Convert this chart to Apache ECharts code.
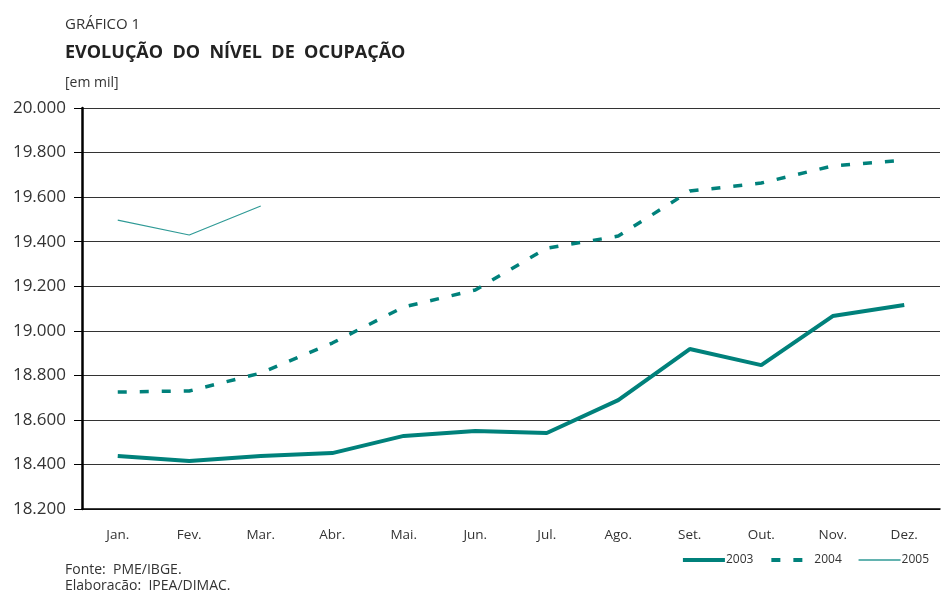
<!DOCTYPE html>
<html>
<head>
<meta charset="utf-8">
<script src="https://cdn.jsdelivr.net/npm/echarts@6/dist/echarts.min.js"></script>
<style>
  html, body { margin: 0; padding: 0; background: #fff; }
  #chart { width: 942px; height: 592px; }
</style>
</head>
<body>
<div id="chart"></div>
<script>
// meses
const months = ['Jan.', 'Fev.', 'Mar.', 'Abr.', 'Mai.', 'Jun.', 'Jul.', 'Ago.', 'Set.', 'Out.', 'Nov.', 'Dez.'];
// ocupados, em mil
const occ2003 = [18438, 18415, 18438, 18451, 18528, 18550, 18541, 18689, 18918, 18846, 19066, 19116];
const occ2004 = [18725, 18730, 18810, 18945, 19107, 19183, 19371, 19425, 19627, 19663, 19740, 19766];
const occ2005 = [19497, 19430, 19560];

const teal = '#00817b';
const font = '"Open Sans", "Noto Sans", sans-serif';

const myChart = echarts.init(document.getElementById('chart'), null, { renderer: 'canvas' });

const option = {
  animation: false,
  backgroundColor: '#fff',
  textStyle: { fontFamily: font },
  title: [
    { text: 'GRÁFICO 1', left: 60, top: 12,
      textStyle: { fontSize: 15, fontWeight: 'normal', color: '#333', fontFamily: font } },
    { text: 'EVOLUÇÃO  DO  NÍVEL  DE  OCUPAÇÃO', left: 60, top: 39,
      textStyle: { fontSize: 18, fontWeight: 'bold', color: '#222', fontFamily: font } },
    { text: '[em mil]', left: 60, top: 71,
      textStyle: { fontSize: 14, fontWeight: 'normal', color: '#333', fontFamily: font } },
    { text: 'Fonte:  PME/IBGE.\nElaboracão:  IPEA/DIMAC.', left: 60, top: 557,
      textStyle: { fontSize: 14, fontWeight: 'normal', color: '#333', lineHeight: 16, fontFamily: font } }
  ],
  legend: {
    right: 8, top: 549,
    itemWidth: 42, itemHeight: 12, itemGap: 16,
    itemStyle: { opacity: 0 },
    textStyle: { fontSize: 12, color: '#333', padding: [0, 0, 0, -4] },
    data: [
      { name: '2003', lineStyle: { width: 4 } },
      { name: '2004', lineStyle: { width: 4, type: [9, 13] } },
      { name: '2005', lineStyle: { width: 1.5 } }
    ]
  },
  grid: { left: 82, right: 2, top: 108, bottom: 83 },
  xAxis: {
    type: 'category',
    data: months,
    boundaryGap: true,
    axisLine: { lineStyle: { color: '#000', width: 1.5 } },
    axisTick: { length: 6, lineStyle: { color: '#000' } },
    axisLabel: { margin: 19, fontSize: 13.5, color: '#333' },
    splitLine: { show: false }
  },
  yAxis: {
    type: 'value',
    min: 18200, max: 20000, interval: 200,
    axisLine: { show: true, lineStyle: { color: '#000', width: 2.5 } },
    axisTick: { show: true, length: 8, lineStyle: { color: '#000' } },
    axisLabel: {
      margin: 16, fontSize: 17, color: '#333',
      formatter: v => v.toLocaleString('pt-BR').replace(/,/g, '.')
    },
    splitLine: { lineStyle: { color: '#333', width: 1 } }
  },
  series: [
    { name: '2003', type: 'line', data: occ2003, symbol: 'none',
      lineStyle: { color: teal, width: 4 }, itemStyle: { color: teal } },
    { name: '2004', type: 'line', data: occ2004, symbol: 'none',
      lineStyle: { color: teal, width: 3.5, type: [9, 13] }, itemStyle: { color: teal } },
    { name: '2005', type: 'line', data: occ2005, symbol: 'none',
      lineStyle: { color: '#2f9a96', width: 1.2 }, itemStyle: { color: '#2f9a96' } }
  ]
};

myChart.setOption(option);
</script>
</body>
</html>
